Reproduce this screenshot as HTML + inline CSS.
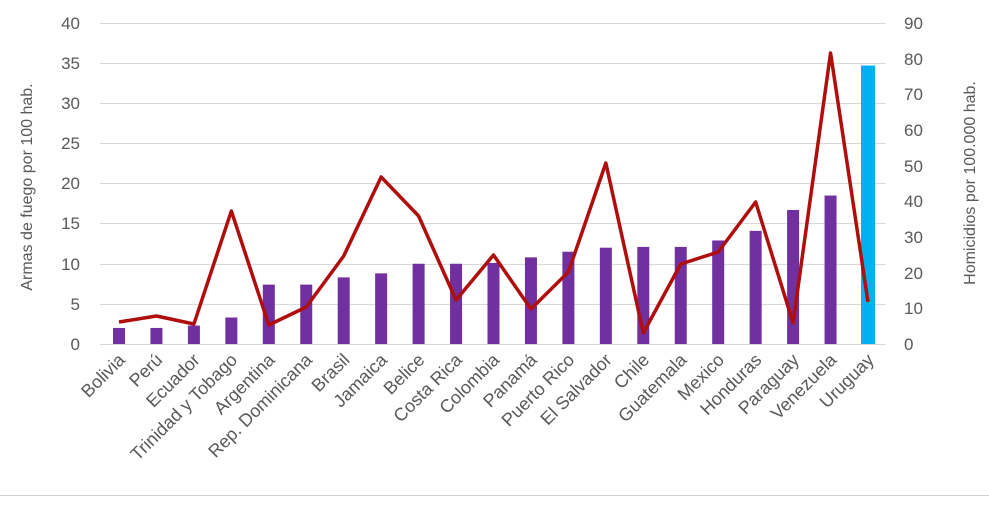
<!DOCTYPE html>
<html><head><meta charset="utf-8"><style>
body{margin:0;background:#fff;}
text{font-family:"Liberation Sans",sans-serif;fill:#595959;}
</style></head><body>
<svg width="989" height="501" viewBox="0 0 989 501">
<rect width="989" height="501" fill="#fff"/>
<g stroke="#d9d9d9" stroke-width="1">
<line x1="100" x2="886" y1="23.5" y2="23.5"/>
<line x1="100" x2="886" y1="63.5" y2="63.5"/>
<line x1="100" x2="886" y1="103.5" y2="103.5"/>
<line x1="100" x2="886" y1="143.5" y2="143.5"/>
<line x1="100" x2="886" y1="183.5" y2="183.5"/>
<line x1="100" x2="886" y1="223.5" y2="223.5"/>
<line x1="100" x2="886" y1="264.5" y2="264.5"/>
<line x1="100" x2="886" y1="304.5" y2="304.5"/>
<line x1="100" x2="886" y1="344.5" y2="344.5"/>
</g>
<line x1="0" x2="989" y1="495.5" y2="495.5" stroke="#d0d0d0"/>
<g font-size="17" text-anchor="end">
<text x="80" y="29">40</text><text x="80" y="69">35</text><text x="80" y="109">30</text>
<text x="80" y="149">25</text><text x="80" y="189">20</text><text x="80" y="229">15</text>
<text x="80" y="270">10</text><text x="80" y="310">5</text><text x="80" y="350">0</text>
</g>
<g font-size="17" text-anchor="start">
<text x="904" y="29">90</text><text x="904" y="65">80</text><text x="904" y="100">70</text>
<text x="904" y="136">60</text><text x="904" y="172">50</text><text x="904" y="207">40</text>
<text x="904" y="243">30</text><text x="904" y="279">20</text><text x="904" y="314">10</text>
<text x="904" y="350">0</text>
</g>
<text transform="translate(32,187) rotate(-90)" font-size="16" text-anchor="middle">Armas de fuego por 100 hab.</text>
<text transform="translate(975,183) rotate(-90)" font-size="16" text-anchor="middle">Homicidios por 100.000 hab.</text>
<g fill="#7030a0" id="bars"></g>
<polyline id="ln" fill="none" stroke="#b00d0d" stroke-width="3.5" stroke-linejoin="round"/>
<g id="lbl" font-size="18" text-anchor="end"></g>
</svg>
<script>
var n=["Bolivia","Perú","Ecuador","Trinidad y Tobago","Argentina","Rep. Dominicana","Brasil","Jamaica","Belice","Costa Rica","Colombia","Panamá","Puerto Rico","El Salvador","Chile","Guatemala","Mexico","Honduras","Paraguay","Venezuela","Uruguay"];
var v=[2,2,2.3,3.3,7.4,7.4,8.3,8.8,10,10,10.1,10.8,11.5,12,12.1,12.1,12.9,14.1,16.7,18.5,34.7];
var ly=[322,316,324,211,325,307,256,177,216,300,255,309,272,163,333,264,252,202,323,53,302];
var ns="http://www.w3.org/2000/svg",b=document.getElementById("bars"),l=document.getElementById("lbl"),pts=[];
for(var i=0;i<21;i++){var cx=119+i*37.45,h=v[i]*8.025;var r=document.createElementNS(ns,"rect");
var w=i==20?14:12;r.setAttribute("x",cx-w/2);r.setAttribute("y",344-h);r.setAttribute("width",w);r.setAttribute("height",h);
if(i==20)r.setAttribute("fill","#00b0f0");b.appendChild(r);pts.push(cx+","+ly[i]);
var t=document.createElementNS(ns,"text");t.setAttribute("transform","translate("+(cx+7)+",361) rotate(-45)");t.textContent=n[i];l.appendChild(t);}
document.getElementById("ln").setAttribute("points",pts.join(" "));
</script>
</body></html>
